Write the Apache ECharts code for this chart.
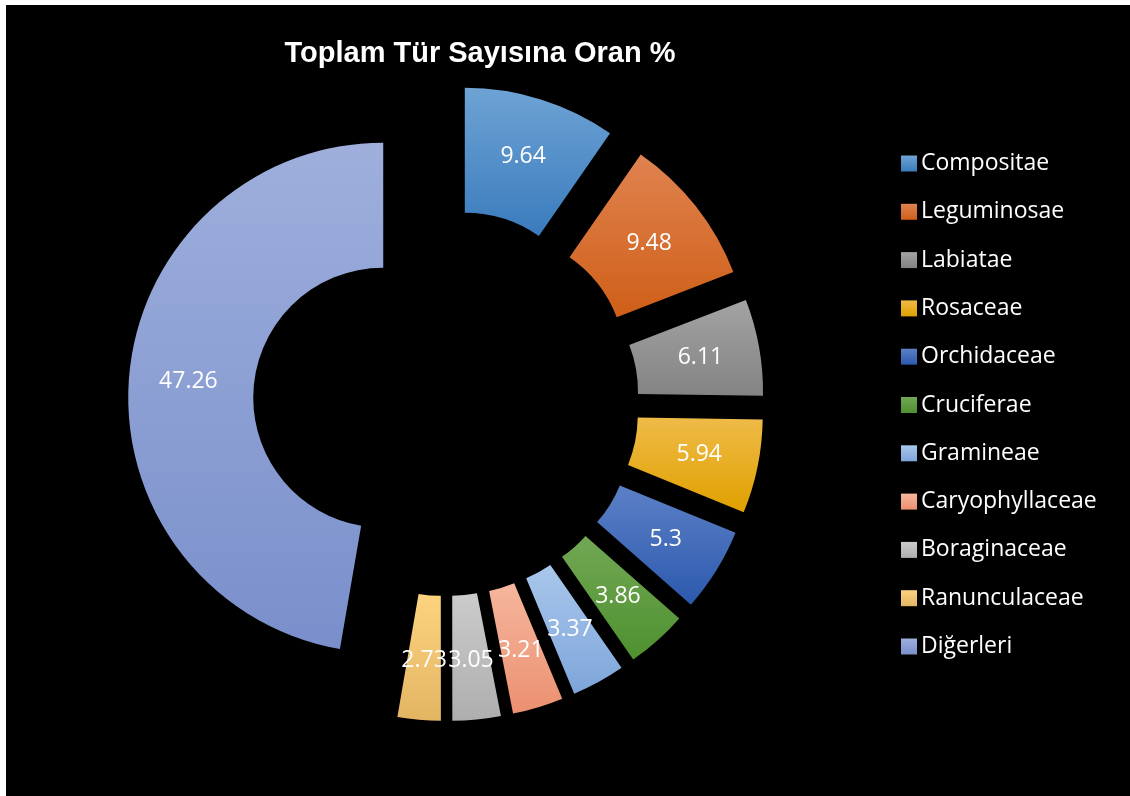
<!DOCTYPE html>
<html>
<head>
<meta charset="utf-8">
<script src="https://cdn.jsdelivr.net/npm/echarts@6/dist/echarts.min.js"></script>
<style>
  html, body { margin: 0; padding: 0; background: #ffffff; overflow: hidden; }
  #chart { position: absolute; left: 6px; top: 5px; width: 1130px; height: 800px; background: #000000; }
</style>
</head>
<body>
<div id="chart"></div>
<script>
// Family names and their share (%) of the total species count
const families = ['Compositae', 'Leguminosae', 'Labiatae', 'Rosaceae', 'Orchidaceae',
  'Cruciferae', 'Gramineae', 'Caryophyllaceae', 'Boraginaceae', 'Ranunculaceae', 'Diğerleri'];
const shares = [9.64, 9.48, 6.11, 5.94, 5.3, 3.86, 3.37, 3.21, 3.05, 2.73, 47.26];

// Top / bottom colours of each slice's vertical gradient
const topColors = ['#6ea3d4', '#e08350', '#a3a3a3', '#efbb48', '#5c80c6',
  '#72a854', '#a9c7ec', '#f6b69e', '#cbcbcb', '#fdd380', '#9eafdc'];
const bottomColors = ['#3a7bbd', '#cf5f18', '#838383', '#e0a000', '#2c59ad',
  '#4e9030', '#7ea5da', '#eb9070', '#aeaeae', '#e2b563', '#7a8fcb'];

const chart = echarts.init(document.getElementById('chart'), null, { renderer: 'canvas' });

const pieData = families.map((name, i) => ({
  name: name,
  value: shares[i],
  selected: true,
  itemStyle: {
    color: new echarts.graphic.LinearGradient(0, 0, 0, 1, [
      { offset: 0, color: topColors[i] },
      { offset: 1, color: bottomColors[i] }
    ])
  }
}));

chart.setOption({
  backgroundColor: '#000000',
  animation: false,
  title: {
    text: 'Toplam Tür Sayısına Oran %',
    left: 469,
    top: 29,
    textAlign: 'center',
    textStyle: {
      color: '#ffffff',
      fontFamily: '"Liberation Sans", Arial, sans-serif',
      fontWeight: 'bold',
      fontSize: 29
    }
  },
  legend: {
    orient: 'vertical',
    left: 890,
    top: 142,
    itemWidth: 16,
    itemHeight: 16,
    itemGap: 25.3,
    icon: 'rect',
    selectedMode: false,
    textStyle: {
      color: '#ffffff',
      fontFamily: '"Open Sans", sans-serif',
      fontSize: 23,
      lineHeight: 23,
      padding: [0, 0, 0, -1]
    },
    data: families
  },
  series: [{
    type: 'pie',
    center: [440, 398],
    radius: [130, 255],
    startAngle: 90,
    clockwise: true,
    selectedMode: 'multiple',
    selectedOffset: 63,
    avoidLabelOverlap: false,
    silent: true,
    label: {
      show: true,
      position: 'inside',
      color: '#ffffff',
      fontFamily: '"Open Sans", sans-serif',
      fontSize: 23,
      formatter: p => String(p.value)
    },
    labelLayout: { hideOverlap: false },
    labelLine: { show: false },
    emphasis: { disabled: true },
    data: pieData
  }]
});
</script>
</body>
</html>
